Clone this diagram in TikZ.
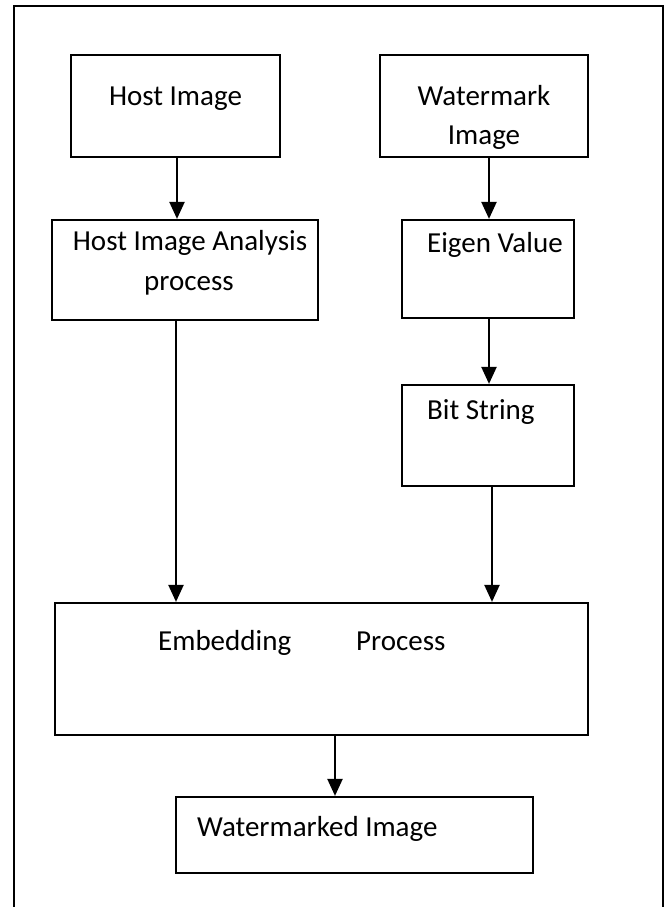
\documentclass[tikz,border=0pt]{standalone}
\usepackage{fontspec}
\setmainfont{Carlito}
\usetikzlibrary{arrows.meta}
\begin{document}
\begin{tikzpicture}[x=1bp,y=-1bp,
  box/.style={draw=black, line width=2.2bp, rectangle, inner sep=0pt},
  txt/.style={anchor=base west, inner sep=0pt, font=\fontsize{29bp}{40bp}\selectfont},
  ctxt/.style={anchor=base, inner sep=0pt, font=\fontsize{29bp}{40bp}\selectfont},
  flow/.style={line width=2.2bp, -{Triangle[width=15bp,length=17bp]}}
]
\useasboundingbox (0,0) rectangle (672,907);
% page frame, open at the bottom
\draw[line width=2.4bp] (14,907) -- (14,6) -- (663,6) -- (663,907);

% boxes
\node[box, minimum width=209bp, minimum height=102bp] (host) at (175.5,106) {};
\node[box, minimum width=208bp, minimum height=102bp] (wm) at (484,106) {};
\node[box, minimum width=266bp, minimum height=100bp] (hia) at (185,270) {};
\node[box, minimum width=172bp, minimum height=98bp] (eig) at (488,269) {};
\node[box, minimum width=172bp, minimum height=101bp] (bit) at (488,435.5) {};
\node[box, minimum width=533bp, minimum height=132bp] (emb) at (321.5,669) {};
\node[box, minimum width=357bp, minimum height=76bp] (out) at (354.5,835) {};

% labels
\node[ctxt] (t1) at (175.5,105) {Host Image};
\node[ctxt] (t2a) at (484,105) {Watermark};
\node[ctxt] (t2b) at (484,144) {Image};
\node[ctxt] (t3a) at (190,250) {Host Image Analysis};
\node[ctxt] (t3b) at (189,290) {process};
\node[txt] (t4) at (427,252) {Eigen Value};
\node[txt] (t5) at (427,419) {Bit String};
\node[txt] (t6a) at (158,650) {Embedding};
\node[txt] (t6b) at (356,650) {Process};
\node[txt] (t7) at (197,836) {Watermarked Image};

% connectors
\draw[flow] (host.south -| 177,0) -- (hia.north -| 177,0);
\draw[flow] (wm.south -| 489,0) -- (eig.north -| 489,0);
\draw[flow] (hia.south -| 176,0) -- (emb.north -| 176,0);
\draw[flow] (eig.south -| 489,0) -- (bit.north -| 489,0);
\draw[flow] (bit.south -| 492,0) -- (emb.north -| 492,0);
\draw[flow] (emb.south -| 335,0) -- (out.north -| 335,0);
\end{tikzpicture}
\end{document}
